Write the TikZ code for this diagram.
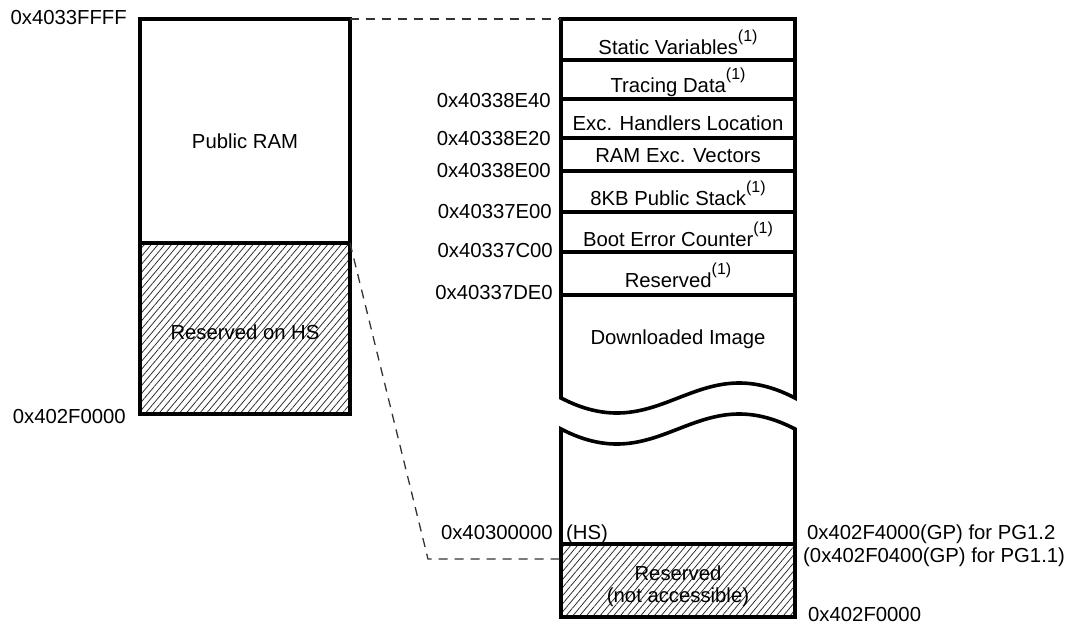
\documentclass[tikz,border=0pt]{standalone}
\usepackage{fontspec}
\setmainfont{Liberation Sans}
\usetikzlibrary{patterns.meta}
\newcommand\fnote{\raisebox{13pt}{\fontsize{16}{17}\selectfont(1)}}
\begin{document}
\begin{tikzpicture}[x=1pt,y=-1pt,
  txt/.style={font=\fontsize{20.3}{22}\selectfont, inner sep=0pt, anchor=base},
  lbl/.style={txt, anchor=base east},
  rlbl/.style={txt, anchor=base west},
  memleft/.style={draw, line width=3.6pt, minimum width=210pt, inner sep=0pt, outer sep=0pt},
  memright/.style={draw, line width=3.6pt, minimum width=234pt, inner sep=0pt, outer sep=0pt},
  thickline/.style={line width=3.6pt},
  hatch/.style={pattern={Lines[angle=50,distance=5.2pt,line width=0.75pt]}, pattern color=black!85},
  dashlink/.style={draw=black!80, line width=1.3pt, dash pattern=on 9pt off 7pt}
]
\useasboundingbox (0,0) rectangle (1070,627);

% left column
\node[memleft, minimum height=224pt] (pub) at (245,131) {};
\node[memleft, hatch, minimum height=171pt] (hs) at (245,328.5) {};
\node[txt] (pubt) at (245,148) {Public RAM};
\node[txt] (hst) at (245,339) {Reserved on HS};
\node[lbl] (a1) at (127,24) {0x4033FFFF};
\node[lbl] (a2) at (126,423) {0x402F0000};

% right column, upper part
\node[memright, minimum height=41pt] (s1) at (678,39.5) {};
\node[memright, minimum height=39pt] (s2) at (678,79.5) {};
\node[memright, minimum height=39pt] (s3) at (678,118.5) {};
\node[memright, minimum height=33pt] (s4) at (678,154.5) {};
\node[memright, minimum height=41pt] (s5) at (678,191.5) {};
\node[memright, minimum height=40pt] (s6) at (678,232) {};
\node[memright, minimum height=43pt] (s7) at (678,273.5) {};

\coordinate (w1l) at (561,398);
\coordinate (w1r) at (795,398);
\draw[thickline] (s7.south west) -- (w1l) .. controls (661,450) and (695,346) .. (w1r) -- (s7.south east);

% right column, lower part
\node[memright, hatch, minimum height=73pt] (resv) at (678,580.5) {};
\coordinate (w2l) at (561,429);
\coordinate (w2r) at (795,429);
\draw[thickline] (resv.north west) -- (w2l) .. controls (661,481) and (695,377) .. (w2r) -- (resv.north east);

% texts inside right column
\node[txt] (t1) at (678,54) {Static Variables\fnote};
\node[txt] (t2) at (678,92) {Tracing Data\fnote};
\node[txt] (t3) at (678,130) {Exc. Handlers Location};
\node[txt] (t4) at (678,162) {RAM Exc. Vectors};
\node[txt] (t5) at (678,205) {8KB Public Stack\fnote};
\node[txt] (t6) at (678,246) {Boot Error Counter\fnote};
\node[txt] (t7) at (678,287) {Reserved\fnote};
\node[txt] (t8) at (678,344) {Downloaded Image};
\node[txt] (t9) at (678,580) {Reserved};
\node[txt] (t10) at (678,602) {(not accessible)};

% address labels of right column
\node[lbl] (b1) at (551,107) {0x40338E40};
\node[lbl] (b2) at (551,145) {0x40338E20};
\node[lbl] (b3) at (551,177) {0x40338E00};
\node[lbl] (b4) at (552,218) {0x40337E00};
\node[lbl] (b5) at (553,257) {0x40337C00};
\node[lbl] (b6) at (553,299) {0x40337DE0};
\node[lbl] (b7) at (553,539) {0x40300000};
\node[rlbl] (b8) at (566,539) {(HS)};
\node[rlbl] (c1) at (807,539) {0x402F4000(GP) for PG1.2};
\node[rlbl] (c2) at (803,562) {(0x402F0400(GP) for PG1.1)};
\node[rlbl] (c3) at (808,621) {0x402F0000};

% dashed connectors
\coordinate (bend) at (428,559);
\draw[dashlink] (pub.north east) -- (s1.north west);
\draw[dashlink] (hs.north east) -- (bend) -- (bend -| resv.west);
\end{tikzpicture}
\end{document}
